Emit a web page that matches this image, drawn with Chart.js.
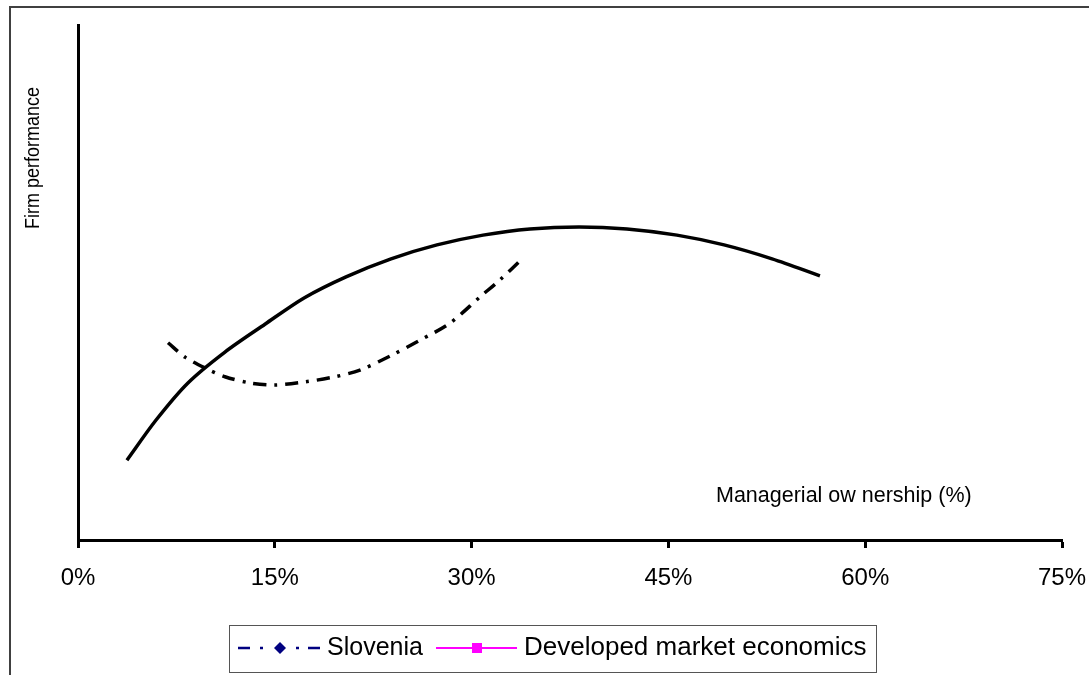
<!DOCTYPE html>
<html>
<head>
<meta charset="utf-8">
<script src="https://cdn.jsdelivr.net/npm/chart.js@4/dist/chart.umd.min.js"></script>
<style>
  html, body { margin: 0; padding: 0; background: #fff; }
  canvas { display: block; }
</style>
</head>
<body>
<canvas id="chart" width="1089" height="675"></canvas>
<script>
// values (x = managerial ownership %, y = relative performance)
const seriesNames = ['Slovenia', 'Developed market economics'];
const legendColors = ['#000080', '#ff00ff'];

const sloveniaOwnership = [6.86, 8.16, 9.68, 11.2, 13.11, 15.02, 17.3, 19.59, 21.49, 23.78, 26.07, 28.35, 30.64, 32.16, 33.77];
const sloveniaPerf = [38.3, 35.5, 33.4, 31.7, 30.5, 30.1, 30.7, 31.7, 33.0, 35.7, 38.8, 42.1, 47.2, 50.5, 54.4];

const developedOwnership = [3.73, 5.95, 8.38, 11.2, 14.25, 17.23, 20.43, 23.86, 27.36, 30.87, 34.45, 38.19, 41.84, 45.65, 49.24, 52.9, 56.55];
const developedPerf = [15.5, 23.3, 30.5, 36.5, 41.9, 47.0, 51.1, 54.6, 57.3, 59.2, 60.4, 60.8, 60.4, 59.2, 57.3, 54.6, 51.3];

const xTickValues = [0, 15, 30, 45, 60, 75];

const xTitle = 'Managerial ow nership (%)';
const yTitle = 'Firm performance';

const FONT = '"Liberation Sans", Arial, sans-serif';

function toPoints(xs, ys) {
  return xs.map((x, i) => ({ x: x, y: ys[i] }));
}

// frame, floating axis titles and the legend box
const decorations = {
  id: 'decorations',
  afterDraw(chart) {
    const ctx = chart.ctx;
    ctx.save();

    // outer frame (only top and left are inside the picture)
    ctx.strokeStyle = '#404040';
    ctx.lineWidth = 2;
    ctx.beginPath();
    ctx.moveTo(10, 700);
    ctx.lineTo(10, 7);
    ctx.lineTo(1100, 7);
    ctx.stroke();

    // x title sits inside the plot, above the axis
    ctx.fillStyle = '#000';
    ctx.font = '21.5px ' + FONT;
    ctx.textAlign = 'left';
    ctx.textBaseline = 'alphabetic';
    ctx.fillText(xTitle, 716, 502);

    // y title, rotated
    ctx.save();
    ctx.translate(39, 158);
    ctx.rotate(-Math.PI / 2);
    ctx.scale(1, 1.15);
    ctx.font = '18px ' + FONT;
    ctx.textAlign = 'center';
    ctx.fillText(yTitle, 0, 0);
    ctx.restore();

    // legend
    ctx.strokeStyle = '#555';
    ctx.lineWidth = 1;
    ctx.strokeRect(229.5, 625.5, 647, 47);

    const ly = 648;
    // Slovenia: dash - dot - diamond - dot - dash
    ctx.strokeStyle = legendColors[0];
    ctx.fillStyle = legendColors[0];
    ctx.lineWidth = 2.5;
    ctx.beginPath();
    ctx.moveTo(238, ly); ctx.lineTo(250, ly);
    ctx.moveTo(260, ly); ctx.lineTo(263, ly);
    ctx.moveTo(296, ly); ctx.lineTo(299, ly);
    ctx.moveTo(308, ly); ctx.lineTo(320, ly);
    ctx.stroke();
    ctx.beginPath();
    ctx.moveTo(280, ly - 6);
    ctx.lineTo(286, ly);
    ctx.lineTo(280, ly + 6);
    ctx.lineTo(274, ly);
    ctx.closePath();
    ctx.fill();

    // Developed: solid magenta with square
    ctx.strokeStyle = legendColors[1];
    ctx.fillStyle = legendColors[1];
    ctx.lineWidth = 2;
    ctx.beginPath();
    ctx.moveTo(436, ly); ctx.lineTo(517, ly);
    ctx.stroke();
    ctx.fillRect(472, ly - 5, 10, 10);

    ctx.fillStyle = '#000';
    ctx.font = '25px ' + FONT;
    ctx.textAlign = 'left';
    ctx.textBaseline = 'middle';
    ctx.fillText(seriesNames[0], 327, ly);
    ctx.save();
    ctx.translate(524, ly);
    ctx.scale(1.04, 1);
    ctx.fillText(seriesNames[1], 0, 0);
    ctx.restore();

    ctx.restore();
  }
};

new Chart(document.getElementById('chart'), {
  type: 'line',
  data: {
    datasets: [
      {
        label: seriesNames[0],
        data: toPoints(sloveniaOwnership, sloveniaPerf),
        borderColor: '#000',
        borderWidth: 3.5,
        borderDash: [13, 8, 3, 8],
        pointRadius: 0,
        tension: 0.3,
        fill: false,
      },
      {
        label: seriesNames[1],
        data: toPoints(developedOwnership, developedPerf),
        borderColor: '#000',
        borderWidth: 3.5,
        pointRadius: 0,
        tension: 0.3,
        fill: false,
      },
    ],
  },
  options: {
    responsive: false,
    animation: false,
    layout: { padding: { left: 78, right: 27, top: 25, bottom: 0 } },
    plugins: {
      legend: { display: false },
      tooltip: { enabled: false },
    },
    scales: {
      x: {
        type: 'linear',
        min: 0,
        max: 75,
        afterBuildTicks: (scale) => {
          scale.ticks = xTickValues.map((v) => ({ value: v }));
        },
        afterFit: (scale) => {
          scale.height = 135;
          scale.paddingLeft = 0;
          scale.paddingRight = 0;
        },
        ticks: {
          callback: (v) => v + '%',
          font: { family: FONT, size: 24 },
          color: '#000',
          padding: 16,
          maxRotation: 0,
        },
        grid: {
          drawOnChartArea: false,
          drawTicks: true,
          tickLength: 8,
          tickWidth: 3,
          tickColor: '#000',
        },
        border: { display: true, color: '#000', width: 3 },
      },
      y: {
        type: 'linear',
        min: 0,
        max: 100,
        afterFit: (scale) => { scale.width = 0; },
        ticks: { display: false },
        grid: { drawOnChartArea: false, drawTicks: false },
        border: { display: true, color: '#000', width: 3 },
      },
    },
  },
  plugins: [decorations],
});
</script>
</body>
</html>
